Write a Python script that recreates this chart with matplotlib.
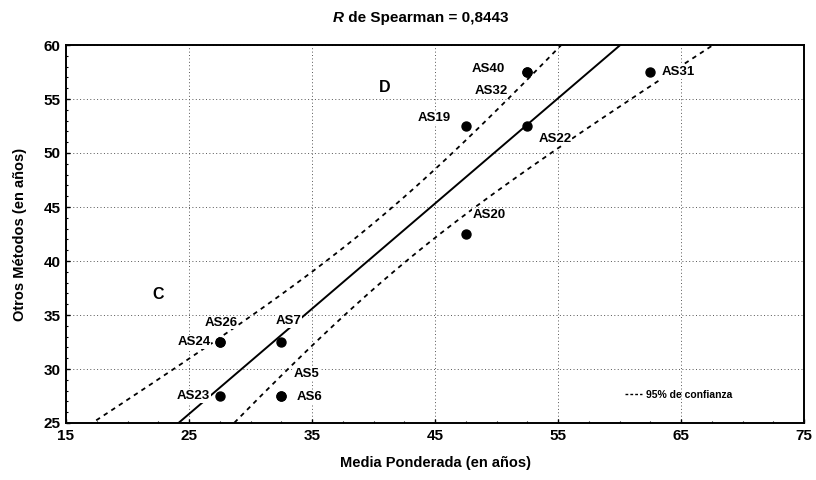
import numpy as np
import matplotlib.pyplot as plt
from matplotlib.lines import Line2D
from matplotlib.ticker import MultipleLocator

plt.rcParams['font.family'] = ['Liberation Sans', 'DejaVu Sans']
plt.rcParams['font.weight'] = 'bold'

# muestras: media ponderada vs otros metodos (en años)
etiquetas = ['AS23', 'AS24', 'AS26', 'AS7', 'AS5', 'AS6',
             'AS19', 'AS20', 'AS40', 'AS32', 'AS22', 'AS31']
media_pond = [27.5, 27.5, 27.5, 32.5, 32.5, 32.5,
              47.5, 47.5, 52.5, 52.5, 52.5, 62.5]
otros_met = [27.5, 32.5, 32.5, 32.5, 27.5, 27.5,
             52.5, 42.5, 57.5, 57.5, 52.5, 57.5]
ticks_x = [15, 25, 35, 45, 55, 65, 75]
ticks_y = [25, 30, 35, 40, 45, 50, 55, 60]
titulo_r = 'R'
titulo_resto = ' de Spearman = 0,8443'
zonas = ['C', 'D']
zonas_x = [22.5, 40.9]
zonas_y = [36.9, 56.1]

# desplazamiento de cada etiqueta (puntos) y alineacion
desp = {'AS23': (-7, 0, 'right'), 'AS24': (-6.5, 0, 'right'),
        'AS26': (13, 14, 'right'), 'AS7': (5, 15, 'center'),
        'AS5': (9, 16, 'left'), 'AS6': (11, -1, 'left'),
        'AS19': (-11, 6, 'right'), 'AS20': (5, 14, 'left'),
        'AS40': (-16, 2, 'right'), 'AS32': (-14, -14, 'right'),
        'AS22': (8, -9, 'left'), 'AS31': (8, 0, 'left')}

x = np.array(media_pond)
y = np.array(otros_met)
n = len(x)

# recta de regresion y bandas de confianza al 95%
b, a = np.polyfit(x, y, 1)
res = y - (a + b * x)
s = np.sqrt(np.sum(res ** 2) / (n - 2))
sxx = np.sum((x - x.mean()) ** 2)
t = 2.228  # t de Student, 10 g.l.
xl = np.linspace(15, 75, 300)
yl = a + b * xl
ee = t * s * np.sqrt(1.0 / n + (xl - x.mean()) ** 2 / sxx)

fig = plt.figure(figsize=(8.16, 4.8), dpi=100)
ax = fig.add_axes([66 / 816, 1 - 423 / 480, 738 / 816, 378 / 480])

ax.plot(xl, yl, color='black', lw=1.4, zorder=2)
ax.plot(xl, yl + ee, color='black', lw=1.3, ls=(0, (2.5, 2.5)), zorder=2)
ax.plot(xl, yl - ee, color='black', lw=1.3, ls=(0, (2.5, 2.5)), zorder=2)
ax.scatter(x, y, s=42, color='black', zorder=3)

for et, xi, yi in zip(etiquetas, x, y):
    dx, dy, ha = desp[et]
    ax.annotate(et, (xi, yi), xytext=(dx, dy), textcoords='offset points',
                ha=ha, va='center', fontsize=9.5, fontweight='bold',
                bbox=dict(facecolor='white', edgecolor='none', pad=0.5),
                zorder=4)

for z, zx, zy in zip(zonas, zonas_x, zonas_y):
    ax.text(zx, zy, z, ha='center', va='center', fontsize=11.5,
            fontweight='bold', zorder=4)

ax.set_xlim(15, 75)
ax.set_ylim(25, 60)
ax.set_xticks(ticks_x)
ax.set_yticks(ticks_y)
ax.xaxis.set_minor_locator(MultipleLocator(2.5))
ax.yaxis.set_minor_locator(MultipleLocator(1))
ax.grid(True, which='major', color='#555555', ls=(0, (1, 2.5)), lw=0.7, zorder=0)
ax.tick_params(which='major', direction='in', length=3, width=1,
               labelsize=11, pad=4)
ax.tick_params(which='minor', direction='in', length=1.5, width=0.8)
for sp in ax.spines.values():
    sp.set_linewidth(1.4)

ax.set_xlabel('Media Ponderada (en años)', fontsize=10.5, fontweight='bold',
              labelpad=10)
ax.set_ylabel('Otros Métodos (en años)', fontsize=10.5, fontweight='bold',
              labelpad=12)

ax.legend([Line2D([], [], color='black', lw=1, ls=(0, (2, 1.5)))],
          ['95% de confianza'], loc='center left',
          bbox_to_anchor=(625 / 816, 1 - 395 / 480),
          bbox_transform=fig.transFigure, frameon=False,
          fontsize=7.5, handlelength=1.6, handletextpad=0.4,
          borderpad=0, borderaxespad=0)

# titulo con la R en cursiva
t1 = fig.text(333 / 816, 1 - 22 / 480, titulo_r, fontsize=11,
              fontweight='bold', style='italic', va='baseline')
ax.annotate(titulo_resto, xy=(1, 0), xycoords=t1, fontsize=11,
            fontweight='bold', va='bottom', annotation_clip=False)

fig.savefig('out.png', dpi=100)
